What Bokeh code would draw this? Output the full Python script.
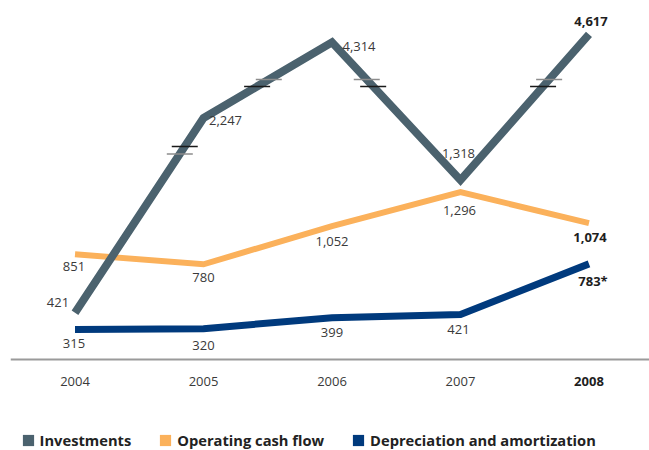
import math
from bokeh.plotting import figure
from bokeh.models import (Range1d, LogScale, LinearAxis, Legend, LegendItem,
                          ColumnDataSource, FixedTicker)
from bokeh.embed import file_html
from bokeh.resources import INLINE
from bokeh.core.properties import value

# ---------------- data ----------------
years = [2004, 2005, 2006, 2007, 2008]
year_labels = ["2004", "2005", "2006", "2007", "2008"]
investments = [421, 2247, 4314, 1318, 4617]
operating_cash_flow = [851, 780, 1052, 1296, 1074]
depreciation = [315, 320, 399, 421, 783]
investments_labels = ["421", "2,247", "4,314", "1,318", "4,617"]
operating_labels = ["851", "780", "1,052", "1,296", "1,074"]
depreciation_labels = ["315", "320", "399", "421", "783*"]
series_names = ["Investments", "Operating cash flow", "Depreciation and amortization"]
axis_base = 100          # value at which the category axis sits
# broken-axis marks on the investments line (value levels per segment)
break_upper = [1760, 3130, 3130, 3130]
break_lower = [1650, 2950, 2950, 2950]
break_dark_upper = [True, False, False, False]

# ---------------- styles ----------------
C_INV = "#4b626e"
C_OCF = "#fbb15b"
C_DEP = "#003a7d"
FONT = "Open Sans"
label_style = ["normal", "normal", "normal", "normal", "bold"]
label_color = ["#3a3a3a", "#3a3a3a", "#3a3a3a", "#3a3a3a", "#1e1e1e"]
inv_dx = [-17, 22, 27, -2, 2]
inv_dy = [-10, 2, 4, -27, -13]
ocf_dx = [-1, 0, 0, -1, 1]
ocf_dy = [12, 13, 15, 18, 14]
dep_dx = [-1, 0, 0, -2, 4]
dep_dy = [14, 17, 15, 15, 17]

p = figure(width=649, height=450,
           x_range=Range1d(2003.498, 2008.471), y_range=Range1d(-550, 2664.3),
           x_axis_type=None, y_axis_type=None,
           output_backend="svg", toolbar_location=None,
           min_border_left=10, min_border_right=0, min_border_top=0, min_border_bottom=0)
p.extra_y_ranges = {"inv": Range1d(128.8, 6177)}
p.extra_y_scales = {"inv": LogScale()}
p.outline_line_color = None
p.xgrid.visible = False
p.ygrid.visible = False
p.background_fill_color = "white"
p.border_fill_color = "white"

xaxis = LinearAxis(ticker=FixedTicker(ticks=[]), fixed_location=axis_base,
                   axis_line_color="#9a9a9a", axis_line_width=2,
                   major_tick_line_color=None, minor_tick_line_color=None)
p.add_layout(xaxis, "below")

# year labels (2008 emphasised)
ysrc = ColumnDataSource(dict(x=years, y=[axis_base] * len(years), t=year_labels,
                             st=label_style, c=label_color))
p.text(x="x", y="y", text="t", source=ysrc, y_offset=22,
       text_font=value(FONT), text_font_size="13px", text_font_style="st",
       text_color="c", text_align="center", text_baseline="middle")

# lines
p.line(years, depreciation, line_color=C_DEP, line_width=7, line_join="miter")
p.line(years, operating_cash_flow, line_color=C_OCF, line_width=6, line_join="miter")
p.line(years, investments, line_color=C_INV, line_width=8, line_join="miter", y_range_name="inv")

# break marks computed where the investments line crosses the break levels
bx, by, bc = [], [], []
for i in range(len(years) - 1):
    x0, x1 = years[i], years[i + 1]
    l0, l1 = math.log10(investments[i]), math.log10(investments[i + 1])
    for lvl, upper in ((break_upper[i], True), (break_lower[i], False)):
        t = (math.log10(lvl) - l0) / (l1 - l0)
        bx.append(x0 + t * (x1 - x0))
        by.append(lvl)
        dark = (upper == break_dark_upper[i])
        bc.append("#1a1a1a" if dark else "#8c8c8c")
p.scatter(bx, by, marker="dash", size=26, line_color=bc, line_width=1.4, y_range_name="inv")

# value labels
def add_labels(vals, labels, dx, dy, yname=None):
    src = ColumnDataSource(dict(x=years, y=vals, t=labels, dx=dx, dy=dy,
                                st=label_style, c=label_color))
    kw = dict(y_range_name=yname) if yname else {}
    p.text(x="x", y="y", text="t", x_offset="dx", y_offset="dy", source=src,
           text_font=value(FONT), text_font_size="13px", text_font_style="st",
           text_color="c", text_align="center", text_baseline="middle", **kw)

add_labels(depreciation, depreciation_labels, dep_dx, dep_dy)
add_labels(operating_cash_flow, operating_labels, ocf_dx, ocf_dy)
add_labels(investments, investments_labels, inv_dx, inv_dy, "inv")

# legend with square swatches (swatch renderers hold no drawable point)
nan = float("nan")
swatches = []
for c in (C_INV, C_OCF, C_DEP):
    swatches.append(p.quad(left=[nan], right=[nan], top=[nan], bottom=[nan],
                           fill_color=c, line_color=None))
legend = Legend(items=[LegendItem(label=n, renderers=[r]) for n, r in zip(series_names, swatches)],
                orientation="horizontal", location=(10.6, 0),
                glyph_width=14, glyph_height=14, label_height=14, label_standoff=5, spacing=27,
                label_text_font=FONT, label_text_font_size="14.7px", label_text_font_style="bold",
                label_text_color="#222222", border_line_color=None, background_fill_alpha=0,
                padding=0, margin=0)
p.add_layout(legend)

open("out.html", "w").write(file_html(p, INLINE))
